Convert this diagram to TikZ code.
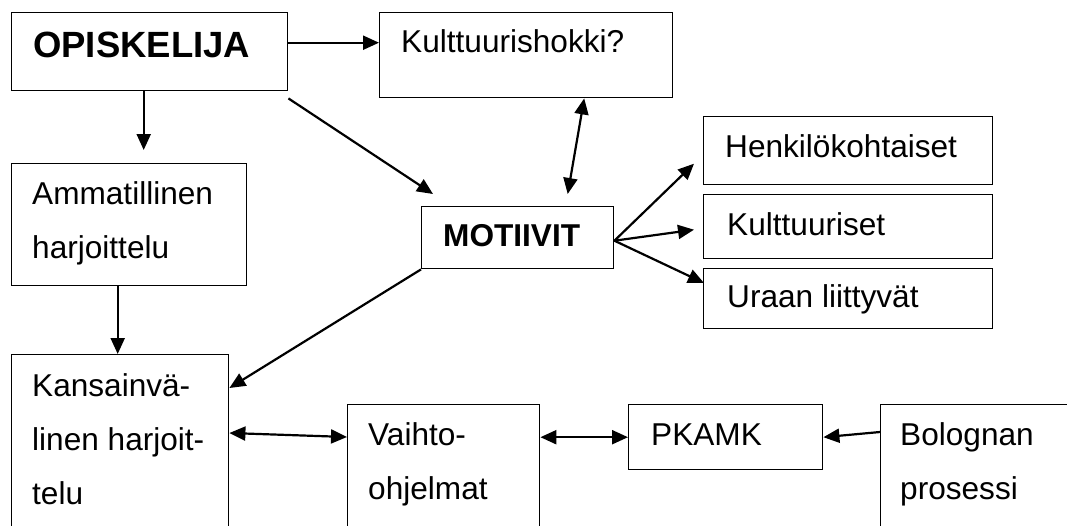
\documentclass[tikz,border=0pt]{standalone}
\usepackage{fontspec}
\setmainfont{Liberation Sans}
\usepackage{tikz}
\usetikzlibrary{arrows.meta}
\tikzset{
   laatikko/.style={draw, line width=1.4pt, anchor=north west, inner sep=0pt},
   teksti/.style={anchor=base west, inner sep=0pt, align=left,
           font=\fontsize{31.6}{54}\selectfont},
   lihava/.style={teksti, font=\fontsize{31.6}{54}\selectfont\bfseries},
   nuoli/.style={line width=2.2pt, -{Triangle[length=16pt, width=14pt]}},
   kaksoisnuoli/.style={line width=2.2pt, {Triangle[length=16pt, width=14pt]}-{Triangle[length=16pt, width=14pt]}},
}

\begin{document}
\begin{tikzpicture}[x=1pt, y=-1pt]
    \clip (0, 0) rectangle (1067, 525);

    \node[laatikko, minimum width=276pt, minimum height=78pt] (opisk) at (11, 12) {};
    \node[laatikko, minimum width=293pt, minimum height=85pt] (shokki) at (379, 12) {};
    \node[laatikko, minimum width=235pt, minimum height=122pt] (ammat) at (11, 163) {};
    \node[laatikko, minimum width=192pt, minimum height=62pt] (motiivit) at (421, 206) {};
    \node[laatikko, minimum width=289pt, minimum height=68pt] (henk) at (703, 116) {};
    \node[laatikko, minimum width=289pt, minimum height=64pt] (kult) at (703, 194) {};
    \node[laatikko, minimum width=289pt, minimum height=60pt] (uraan) at (703, 268) {};
    \node[laatikko, minimum width=217pt, minimum height=190pt] (kans) at (11, 354) {};
    \node[laatikko, minimum width=192pt, minimum height=140pt] (vaihto) at (347, 404) {};
    \node[laatikko, minimum width=194pt, minimum height=65pt] (pkamk) at (628, 404) {};
    \node[laatikko, minimum width=200pt, minimum height=140pt] (bologna) at (880, 404) {};

    % monirivisissa teksteissa base on viimeisen rivin kohdalla
    \node[lihava, font=\fontsize{36.5}{54}\selectfont\bfseries] (opisk-t) at (33, 57) {OPISKELIJA};
    \node[teksti] (shokki-t) at (401, 52) {Kulttuurishokki?};
    \node[teksti] (ammat-t) at (32, 258) {Ammatillinen\\harjoittelu};
    \node[lihava] (motiivit-t) at (443, 246) {MOTIIVIT};
    \node[teksti] (henk-t) at (725, 157) {Henkilökohtaiset};
    \node[teksti] (kult-t) at (727, 235) {Kulttuuriset};
    \node[teksti] (uraan-t) at (727, 307) {Uraan liittyvät};
    \node[teksti] (kans-t) at (32, 504) {Kansainvä-\\linen harjoit-\\telu};
    \node[teksti] (vaihto-t) at (368, 499) {Vaihto-\\ohjelmat};
    \node[teksti] (pkamk-t) at (651, 445) {PKAMK};
    \node[teksti] (bologna-t) at (900, 499) {Bolognan\\prosessi};

    \coordinate (motiivit-o) at ([yshift=-3pt]motiivit.east);

    \draw[nuoli] ([yshift=9pt]opisk.east) -- ([yshift=9pt]opisk.east -| shokki.west);
    \draw[nuoli, shorten >=13pt] ([xshift=-6pt]opisk.south) -- ([xshift=-6pt]opisk.south |- ammat.north);
    \draw[nuoli] ([yshift=-7pt]opisk.south east) -- ([shift={(12pt,12pt)}]motiivit.north west);
    \draw[kaksoisnuoli] ([xshift=58pt]shokki.south) -- ([shift={(50pt,12pt)}]motiivit.north);

    \draw[nuoli] (motiivit-o) -- ([shift={(-9pt,-13pt)}]henk.west);
    \draw[nuoli] (motiivit-o) -- ([shift={(-9pt,-3pt)}]kult.west);
    \draw[nuoli] (motiivit-o) -- ([shift={(1pt,-15pt)}]uraan.north west);

    \draw[nuoli] (motiivit.south west) -- ([yshift=-34pt]kans.north east);
    \draw[nuoli] ([xshift=-11.5pt]ammat.south) -- ([xshift=-11.5pt]ammat.south |- kans.north);

    \draw[kaksoisnuoli] ([yshift=-79pt]kans.north east) -- ([yshift=-33pt]vaihto.north west);
    \draw[kaksoisnuoli] (pkamk.west -| vaihto.east) -- (pkamk.west);
    \draw[nuoli] ([yshift=-28pt]bologna.north west) -- (pkamk.east);
\end{tikzpicture}
\end{document}
